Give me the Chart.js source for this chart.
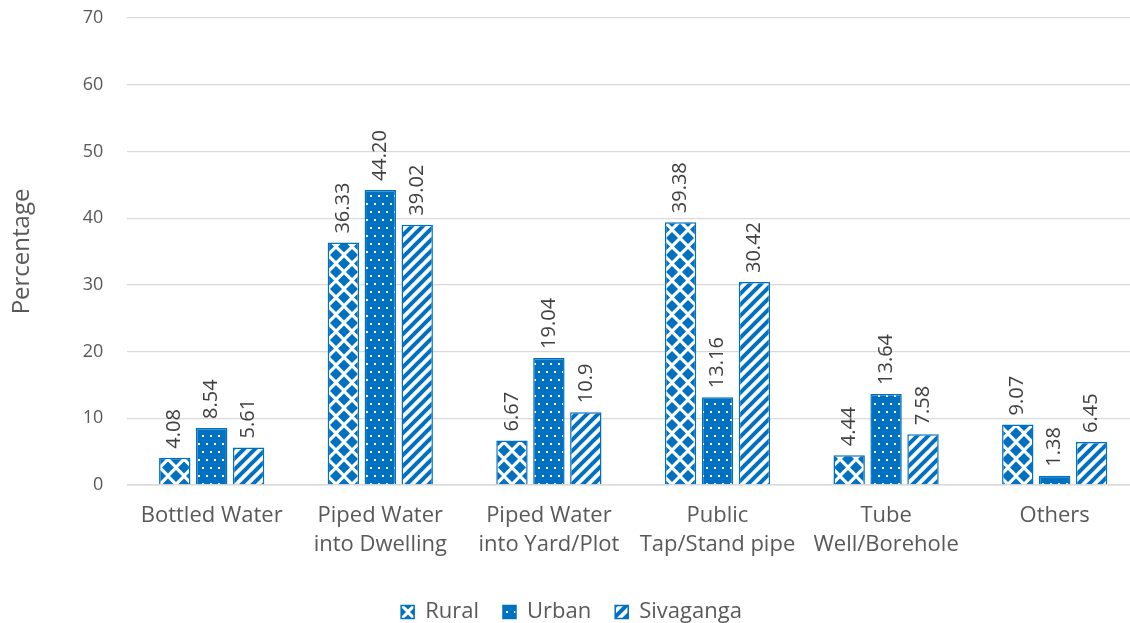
<!DOCTYPE html>
<html>
<head>
<meta charset="utf-8">
<script src="https://cdn.jsdelivr.net/npm/chart.js@4/dist/chart.umd.min.js"></script>
<style>
  html, body { margin: 0; padding: 0; background: #fff; overflow: hidden; }
  #wrap { width: 1139px; height: 623px; }
</style>
</head>
<body>
<div id="wrap"><canvas id="chart"></canvas></div>
<script>
// values (kept as text so labels show e.g. "44.20")
var categories = [["Bottled Water"], ["Piped Water", "into Dwelling"], ["Piped Water", "into Yard/Plot"], ["Public", "Tap/Stand pipe"], ["Tube", "Well/Borehole"], ["Others"]];
var rural = ["4.08", "36.33", "6.67", "39.38", "4.44", "9.07"];
var urban = ["8.54", "44.20", "19.04", "13.16", "13.64", "1.38"];
var sivaganga = ["5.61", "39.02", "10.9", "30.42", "7.58", "6.45"];
var yTicks = [0, 10, 20, 30, 40, 50, 60, 70];

var blue = "#0070C0";
var textColor = "#595959";
var fontFamily = "'Open Sans', 'Noto Sans', sans-serif";

function makePattern(kind) {
	var c = document.createElement("canvas");
	var g = c.getContext("2d");
	if (kind === "diamond") {
		c.width = 16; c.height = 17;
		g.fillStyle = "#fff";
		g.fillRect(0, 0, 16, 17);
		g.fillStyle = blue;
		var pts = [[8, 8.5], [0, 0], [16, 0], [0, 17], [16, 17]];
		pts.forEach(function(p) {
			var r = 6, k = r * 0.5;
			g.beginPath();
			g.moveTo(p[0], p[1] - r);
			g.quadraticCurveTo(p[0] + k, p[1] - k, p[0] + r, p[1]);
			g.quadraticCurveTo(p[0] + k, p[1] + k, p[0], p[1] + r);
			g.quadraticCurveTo(p[0] - k, p[1] + k, p[0] - r, p[1]);
			g.quadraticCurveTo(p[0] - k, p[1] - k, p[0], p[1] - r);
			g.fill();
		});
	} else if (kind === "dots") {
		c.width = 8; c.height = 16;
		g.fillStyle = blue;
		g.fillRect(0, 0, 8, 16);
		g.fillStyle = "#fff";
		g.fillRect(2, 3, 2, 2);
		g.fillRect(6, 11, 2, 2);
	} else {
		c.width = 11; c.height = 11;
		g.fillStyle = "#fff";
		g.fillRect(0, 0, 11, 11);
		g.strokeStyle = blue;
		g.lineWidth = 4;
		g.beginPath();
		g.moveTo(-5.5, 5.5); g.lineTo(5.5, -5.5);
		g.moveTo(0, 11); g.lineTo(11, 0);
		g.moveTo(5.5, 16.5); g.lineTo(16.5, 5.5);
		g.stroke();
	}
	return g.createPattern(c, "repeat");
}

// draws the rotated value above every bar
var valueLabels = {
	id: "valueLabels",
	afterDatasetsDraw: function(chart) {
		var ctx = chart.ctx;
		ctx.save();
		ctx.font = "20px " + fontFamily;
		ctx.fillStyle = "#404040";
		ctx.textAlign = "left";
		ctx.textBaseline = "middle";
		chart.data.datasets.forEach(function(ds, i) {
			chart.getDatasetMeta(i).data.forEach(function(bar, j) {
				ctx.save();
				ctx.translate(bar.x, bar.y - 9);
				ctx.rotate(-Math.PI / 2);
				ctx.fillText(ds.data[j], 0, 0);
				ctx.restore();
			});
		});
		ctx.restore();
	}
};

var ctx = document.getElementById("chart").getContext("2d");
var chart = new Chart(ctx, {
	type: "bar",
	data: {
		labels: categories,
		datasets: [
			{ label: "Rural", data: rural, backgroundColor: makePattern("diamond"), borderColor: blue, borderWidth: 1.5 },
			{ label: "Urban", data: urban, backgroundColor: makePattern("dots"), borderColor: blue, borderWidth: 1.5 },
			{ label: "Sivaganga", data: sivaganga, backgroundColor: makePattern("stripes"), borderColor: blue, borderWidth: 1.5 }
		]
	},
	plugins: [valueLabels],
	options: {
		responsive: true,
		maintainAspectRatio: false,
		animation: false,
		layout: { padding: { top: 18, right: 0, left: 4, bottom: -10 } },
		datasets: { bar: { categoryPercentage: 0.657, barPercentage: 0.85 } },
		plugins: {
			tooltip: { enabled: false },
			legend: {
				position: "bottom",
				labels: {
					boxWidth: 13, boxHeight: 13, padding: 24,
					color: textColor,
					font: { family: fontFamily, size: 22 }
				}
			}
		},
		scales: {
			x: {
				grid: { display: false },
				border: { color: "#d9d9d9", width: 1.5 },
				ticks: { color: textColor, font: { family: fontFamily, size: 22, lineHeight: 1.32 }, padding: 8, maxRotation: 0, autoSkip: false },
				afterFit: function(axis) {
					axis.height += 10;
				}
			},
			y: {
				min: 0, max: 70,
				afterBuildTicks: function(axis) {
					axis.ticks = yTicks.map(function(v) { return { value: v }; });
				},
				afterFit: function(axis) {
					axis.paddingTop = 10;
					axis.paddingBottom = 10;
				},
				border: { display: false },
				grid: { color: "#d9d9d9", lineWidth: 1.2, drawTicks: false },
				ticks: { color: textColor, font: { family: fontFamily, size: 18 }, padding: 24 },
				title: { display: true, text: "Percentage", color: textColor, font: { family: fontFamily, size: 24 }, padding: { bottom: 22 } }
			}
		}
	}
});
</script>
</body>
</html>
